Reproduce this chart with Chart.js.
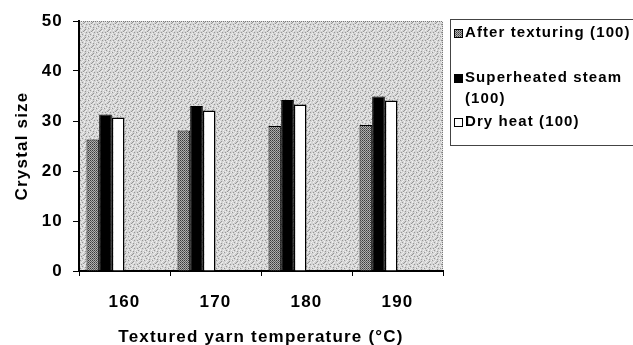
<!DOCTYPE html>
<html>
<head>
<meta charset="utf-8">
<script src="https://cdn.jsdelivr.net/npm/chart.js@4"></script>
<style>
  html, body { margin: 0; padding: 0; background: #fff; }
  #wrap { width: 633px; height: 345px; position: relative; }
</style>
</head>
<body>
<div id="wrap"><canvas id="chart"></canvas></div>
<script>
// data
const categories = ['160', '170', '180', '190'];
const afterTexturing = [26.3, 28.1, 29.0, 29.2];
const superheatedSteam = [31.3, 33.0, 34.2, 34.9];
const dryHeat = [30.7, 32.1, 33.3, 34.1];
const seriesLabels = [['After texturing (100)'], ['Superheated steam', '(100)'], ['Dry heat (100)']];
const yMin = 0, yMax = 50, yStep = 10;

const FONT = "'Liberation Sans', Arial, sans-serif";
const canvas = document.getElementById('chart');
const ctx = canvas.getContext('2d');

// little dither patterns to mimic the scanned print
function makePattern(colors, rows) {
    const c = document.createElement('canvas');
    c.width = rows[0].length;
    c.height = rows.length;
    const g = c.getContext('2d');
    rows.forEach((row, y) => {
        [...row].forEach((ch, x) => {
            g.fillStyle = colors[+ch];
            g.fillRect(x, y, 1, 1);
        });
    });
    return ctx.createPattern(c, 'repeat');
}

const bgPattern = makePattern(['#d4d4d4', '#969696', '#eeeeee'],
    ['01020010', '20002000', '00102002', '02000100',
     '10020002', '00200100', '02001020', '00010200']);
const grayPattern = makePattern(['#3a3a3a', '#b0b0b0', '#606060'],
    ['01', '12']);

const plotBackground = {
    id: 'plotBackground',
    beforeDraw(chart) {
        const c = chart.ctx;
        c.letterSpacing = '1.2px';
        const a = chart.chartArea;
        c.save();
        c.fillStyle = bgPattern;
        c.fillRect(a.left, a.top, a.right - a.left, a.bottom - a.top);
        c.strokeStyle = '#7a7a7a';
        c.setLineDash([1, 1]);
        c.lineWidth = 1;
        c.beginPath();
        c.moveTo(a.left, a.top + 0.5);
        c.lineTo(a.right - 0.5, a.top + 0.5);
        c.lineTo(a.right - 0.5, a.bottom);
        c.stroke();
        c.restore();
    }
};

const legendBox = {
    id: 'legendBox',
    afterDraw(chart) {
        const c = chart.ctx;
        c.save();
        c.strokeStyle = '#444';
        c.lineWidth = 1;
        c.strokeRect(450.5, 19.5, 200, 126);
        c.font = 'bold 15px ' + FONT;
        c.letterSpacing = '1.1px';
        c.textBaseline = 'middle';
        const lineY = [[33], [78, 99], [122]];
        chart.data.datasets.slice(0, 3).forEach((ds, i) => {
            const y0 = lineY[i][0];
            c.fillStyle = ds.backgroundColor;
            c.fillRect(454, y0 - 4, 8, 9);
            c.strokeStyle = '#000';
            c.strokeRect(454.5, y0 - 3.5, 8, 8);
            c.fillStyle = '#000';
            ds.label.forEach((t, k) => c.fillText(t, 465, lineY[i][k]));
        });
        c.restore();
    }
};

const spacer = () => ({ label: [''], data: [], backgroundColor: 'rgba(0,0,0,0)' });

new Chart(canvas, {
    type: 'bar',
    data: {
        labels: categories,
        datasets: [
            { label: seriesLabels[0], data: afterTexturing, backgroundColor: grayPattern, borderColor: '#000', borderWidth: 1 },
            { label: seriesLabels[1], data: superheatedSteam, backgroundColor: '#000', borderColor: '#000', borderWidth: 1 },
            { label: seriesLabels[2], data: dryHeat, backgroundColor: '#fff', borderColor: '#000', borderWidth: 1.5 },
            spacer(), spacer(), spacer()
        ]
    },
    options: {
        responsive: true,
        maintainAspectRatio: false,
        animation: false,
        events: [],
        layout: { padding: { top: 21, right: 190, left: 0, bottom: 0 } },
        datasets: { bar: { categoryPercentage: 0.835, barPercentage: 1 } },
        plugins: { legend: { display: false }, tooltip: { enabled: false } },
        scales: {
            x: {
                grid: { offset: true, drawOnChartArea: false, color: '#000', tickLength: 5, lineWidth: 1 },
                border: { color: '#000', width: 2 },
                ticks: { color: '#000', font: { family: FONT, size: 17, weight: 'bold' }, padding: 16, maxRotation: 0 },
                title: { display: true, text: 'Textured yarn temperature (°C)', color: '#000',
                         font: { family: FONT, size: 17, weight: 'bold' }, padding: { top: 0, bottom: -3 } },
                afterFit(s) { s.height = 74; }
            },
            y: {
                min: yMin, max: yMax,
                grid: { drawOnChartArea: false, color: '#000', tickLength: 6 },
                border: { color: '#000', width: 2 },
                ticks: { stepSize: yStep, color: '#000', font: { family: FONT, size: 17, weight: 'bold' }, padding: 10 },
                title: { display: true, text: 'Crystal size', color: '#000',
                         font: { family: FONT, size: 17, weight: 'bold' }, padding: { top: 12, bottom: 0 } },
                afterFit(s) { s.width = 79; }
            }
        }
    },
    plugins: [plotBackground, legendBox]
});
</script>
</body>
</html>
